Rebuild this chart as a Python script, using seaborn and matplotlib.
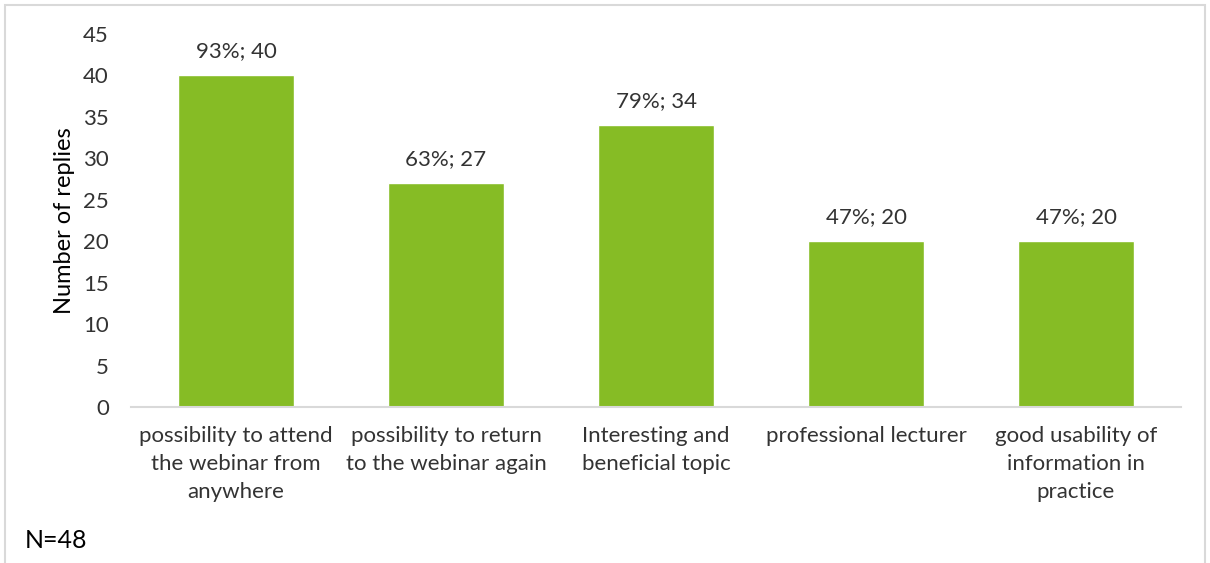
import matplotlib
matplotlib.use("Agg")
import matplotlib.pyplot as plt
import seaborn as sns
import pandas as pd

categories = [
    "possibility to attend\nthe webinar from\nanywhere",
    "possibility to return\nto the webinar again",
    "Interesting and\nbeneficial topic",
    "professional lecturer",
    "good usability of\ninformation in\npractice",
]
replies = [40, 27, 34, 20, 20]
percents = [93, 63, 79, 47, 47]
y_ticks = [0, 5, 10, 15, 20, 25, 30, 35, 40, 45]
n_total = 48

sns.set_theme(style="white")
plt.rcParams["font.family"] = ["Lato", "DejaVu Sans"]
text_color = "#333333"
bar_color = "#86BC25"

df = pd.DataFrame({"category": categories, "replies": replies})

fig = plt.figure(figsize=(12.1, 5.63), dpi=100)
ax = fig.add_axes([131 / 1210, 1 - 407 / 563, 1050 / 1210, 373 / 563])

sns.barplot(data=df, x="category", y="replies", color=bar_color,
            width=0.55, saturation=1, ax=ax)

ax.set_ylim(0, 45)
ax.set_xlim(-0.5, len(categories) - 0.5)
ax.set_yticks(y_ticks)
ax.tick_params(axis="y", length=0, pad=16, labelsize=16, labelcolor=text_color)
ax.tick_params(axis="x", length=0, pad=14, labelsize=16, labelcolor=text_color)
for lbl in ax.get_xticklabels():
    lbl.set_linespacing(1.5)
ax.set_xlabel("")
ax.set_ylabel("Number of replies", fontsize=17, color="black", labelpad=6)

for side in ["left", "right", "top"]:
    ax.spines[side].set_visible(False)
ax.spines["bottom"].set_color("#D9D9D9")
ax.spines["bottom"].set_linewidth(1.5)

for patch, val, pct in zip(ax.patches, replies, percents):
    ax.annotate(f"{pct}%; {val}",
                (patch.get_x() + patch.get_width() / 2, val),
                xytext=(0, 10), textcoords="offset points",
                ha="center", va="bottom", fontsize=16, color=text_color)

fig.text(25 / 1210, 1 - 540 / 563, f"N={n_total}", fontsize=18,
         color="black", ha="left", va="center")

# light frame around the figure
frame = plt.Rectangle((5 / 1210, -0.01), 1200 / 1210, 1 - 5 / 563 + 0.01,
                      transform=fig.transFigure, fill=False,
                      edgecolor="#D9D9D9", linewidth=1.5)
fig.patches.append(frame)

fig.savefig("out.png", dpi=100)
